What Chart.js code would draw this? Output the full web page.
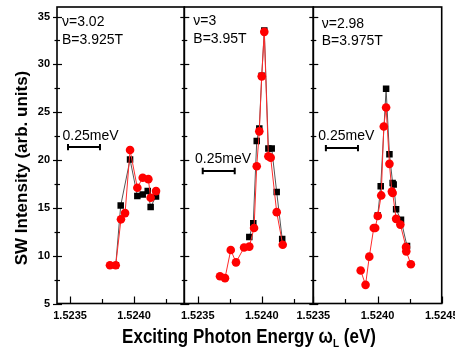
<!DOCTYPE html>
<html>
<head>
<meta charset="utf-8">
<script src="https://cdn.jsdelivr.net/npm/chart.js@4"></script>
<style>
  body { margin: 0; background: #fff; }
  #wrap { position: relative; width: 455px; height: 351px; }
  #wrap canvas { position: absolute; left: 0; top: 0; }
</style>
</head>
<body>
<div id="wrap">
  <canvas id="p1" width="455" height="351"></canvas>
  <canvas id="p2" width="455" height="351"></canvas>
  <canvas id="p3" width="455" height="351"></canvas>
</div>
<script>
// panel 1 : nu=3.02, B=3.925T
const p1RedX = [1.523812, 1.523857, 1.523898, 1.523930, 1.523969, 1.524026, 1.524068, 1.524112, 1.524130, 1.524172];
const p1RedY = [9.0, 9.0, 13.8, 14.45, 21.05, 17.1, 18.15, 18.0, 16.05, 16.75];
const p1BlackX = [1.523857, 1.523896, 1.523969, 1.524026, 1.524068, 1.524107, 1.524130, 1.524172];
const p1BlackY = [9.0, 15.25, 20.05, 16.25, 16.4, 16.75, 15.1, 16.2];

// panel 2 : nu=3, B=3.95T
const p2RedX = [1.523674, 1.523713, 1.523758, 1.523799, 1.523862, 1.523903, 1.523940, 1.523961, 1.523981, 1.524000, 1.524020, 1.524052, 1.524070, 1.524117, 1.524164];
const p2RedY = [7.85, 7.65, 10.6, 9.3, 10.85, 10.95, 12.9, 19.35, 23.0, 28.75, 33.4, 20.4, 20.25, 14.55, 11.15];
const p2BlackX = [1.523903, 1.523934, 1.523961, 1.523981, 1.524000, 1.524020, 1.524052, 1.524078, 1.524117, 1.524160];
const p2BlackY = [11.95, 13.4, 22.0, 23.3, 28.8, 33.55, 21.2, 21.2, 16.65, 11.75];

// panel 3 : nu=2.98, B=3.975T
const p3RedX = [1.523869, 1.523907, 1.523936, 1.523971, 1.523982, 1.524002, 1.524029, 1.524049, 1.524067, 1.524093, 1.524112, 1.524118, 1.524145, 1.524178, 1.524222, 1.524224, 1.524260];
const p3RedY = [8.45, 6.95, 9.9, 12.9, 12.9, 14.15, 16.3, 23.5, 25.5, 19.6, 16.7, 16.55, 13.85, 13.25, 10.9, 10.45, 9.1];
const p3BlackX = [1.524002, 1.524025, 1.524067, 1.524093, 1.524118, 1.524126, 1.524145, 1.524183, 1.524230];
const p3BlackY = [14.2, 17.25, 27.45, 20.6, 17.6, 17.45, 14.85, 13.75, 11.0];

// 0.25 meV scale bars (start energy, level)
const barStart = [1.523484, 1.523539, 1.523598];
const barLevel = [21.35, 18.85, 21.25];
const barWidth = 0.00025;

const panelLabels = [['ν=3.02', 'B=3.925T'], ['ν=3', 'B=3.95T'], ['ν=2.98', 'B=3.975T']];
const barLabel = '0.25meV';
const yTitle = 'SW Intensity (arb. units)';

const FONT = "'Liberation Sans', Arial, sans-serif";
const pts = (xs, ys) => xs.map((x, i) => ({ x: x, y: ys[i] }));

const decor = {
  id: 'decor',
  afterDraw(chart, args, o) {
    const { ctx, chartArea: a, scales: { x, y } } = chart;
    ctx.save();
    ctx.strokeStyle = '#000';
    ctx.lineWidth = 1.6;
    ctx.strokeRect(a.left, a.top, a.right - a.left, a.bottom - a.top);

    ctx.lineWidth = 1.2;
    for (let v = 5; v <= 35; v += 2.5) {
      const py = Math.round(y.getPixelForValue(v)) + 0.5;
      const major = v % 5 === 0;
      ctx.beginPath();
      ctx.moveTo(a.left - (major ? 4 : 2.5), py);
      ctx.lineTo(a.left + (major ? 5 : 3), py);
      ctx.stroke();
    }
    const k0 = Math.ceil(x.min / 0.00025 - 1e-6), k1 = Math.floor(x.max / 0.00025 + 1e-6);
    for (let k = k0; k <= k1; k++) {
      const px = Math.round(x.getPixelForValue(k * 0.00025)) + 0.5;
      ctx.beginPath();
      ctx.moveTo(px, a.bottom);
      ctx.lineTo(px, a.bottom - (k % 2 === 0 ? 7 : 4.5));
      ctx.stroke();
    }

    ctx.fillStyle = '#000';
    ctx.font = '14px ' + FONT;
    ctx.textBaseline = 'alphabetic';
    ctx.fillText(o.lines[0], a.left + o.tx, a.top + o.ty1);
    ctx.fillText(o.lines[1], a.left + o.tx, a.top + o.ty2);
    ctx.fillText(barLabel, a.left + o.bx, a.top + o.by);

    if (o.titles) {
      ctx.font = 'bold 17px ' + FONT;
      ctx.textAlign = 'center';
      ctx.save();
      ctx.translate(21, 168);
      ctx.rotate(-Math.PI / 2);
      ctx.fillText(yTitle, 0, 6);
      ctx.restore();

      // x title, a little taller than wide like the original
      const p1 = 'Exciting Photon Energy ', om = 'ω', sub = 'L', p2 = ' (eV)';
      ctx.textAlign = 'left';
      const w1 = ctx.measureText(p1).width, w2 = ctx.measureText(om).width, w4 = ctx.measureText(p2).width;
      ctx.font = 'bold 10px ' + FONT;
      const w3 = ctx.measureText(sub).width;
      let cx = 249 - (w1 + w2 + w3 + w4) / 2;
      ctx.save();
      ctx.translate(0, 343);
      ctx.scale(1, 1.15);
      ctx.font = 'bold 17px ' + FONT;
      ctx.fillText(p1, cx, 0); cx += w1;
      ctx.fillText(om, cx, 0); cx += w2;
      ctx.font = 'bold 10px ' + FONT;
      ctx.fillText(sub, cx, 3.5); cx += w3;
      ctx.font = 'bold 17px ' + FONT;
      ctx.fillText(p2, cx, 0);
      ctx.restore();
    }
    ctx.restore();
  }
};

function makePanel(id, i, red, black, xmin, xmax, padL, padR, deco) {
  const bar = [{ x: barStart[i], y: barLevel[i] }, { x: barStart[i] + barWidth, y: barLevel[i] }];
  new Chart(document.getElementById(id), {
    type: 'scatter',
    data: {
      datasets: [
        { data: red, showLine: true, borderColor: '#ff2a2a', borderWidth: 1, backgroundColor: '#ff0000',
          pointBackgroundColor: '#ff0000', pointBorderColor: '#ff0000', pointBorderWidth: 0, pointRadius: 4.3, pointStyle: 'circle' },
        { data: black, showLine: true, borderColor: '#555', borderWidth: 1, backgroundColor: '#000',
          pointBackgroundColor: '#000', pointBorderColor: '#000', pointBorderWidth: 0, pointRadius: 4.6, pointStyle: 'rect' },
        { data: bar, showLine: true, borderColor: '#000', borderWidth: 2, pointStyle: 'line', rotation: 90,
          pointRadius: 3.2, pointBorderWidth: 2, pointBorderColor: '#000' }
      ]
    },
    options: {
      responsive: false,
      animation: false,
      events: [],
      layout: { padding: { left: padL, right: padR, top: 7, bottom: 0 } },
      plugins: { legend: { display: false }, tooltip: { enabled: false }, decor: deco },
      scales: {
        x: {
          type: 'linear', min: xmin, max: xmax,
          grid: { display: false, drawTicks: false }, border: { display: false },
          ticks: { stepSize: 0.0005, includeBounds: false, autoSkip: false, maxRotation: 0, padding: 6,
            color: '#000', font: { family: FONT, size: 11, weight: 'bold' },
            callback: v => v.toFixed(4) },
          afterFit: s => { s.height = 47.5; s.paddingLeft = 0; s.paddingRight = 0; }
        },
        y: {
          min: 5, max: 36, display: i === 0,
          grid: { display: false, drawTicks: false }, border: { display: false },
          ticks: { stepSize: 5, includeBounds: false, padding: 7, color: '#000',
            font: { family: FONT, size: 11, weight: 'bold' },
            callback: v => (v % 5 === 0 ? String(v) : '') },
          afterFit: s => { s.width = i === 0 ? 57 : 0; s.paddingTop = 0; s.paddingBottom = 0; }
        }
      }
    },
    plugins: [decor]
  });
}

makePanel('p1', 0, pts(p1RedX, p1RedY), pts(p1BlackX, p1BlackY), 1.523398, 1.524393, 0, 270.7,
  { lines: panelLabels[0], tx: 5, ty1: 18.7, ty2: 36.7, bx: 5.5, by: 132.7, titles: true });
makePanel('p2', 1, pts(p2RedX, p2RedY), pts(p2BlackX, p2BlackY), 1.523395, 1.524403, 184.3, 141.7,
  { lines: panelLabels[1], tx: 9, ty1: 17.7, ty2: 36, bx: 10.7, by: 155.7 });
makePanel('p3', 2, pts(p3RedX, p3RedY), pts(p3BlackX, p3BlackY), 1.5235, 1.5245, 313.3, 13.3,
  { lines: panelLabels[2], tx: 8.4, ty1: 20.7, ty2: 38.4, bx: 5, by: 132.7 });
</script>
</body>
</html>
